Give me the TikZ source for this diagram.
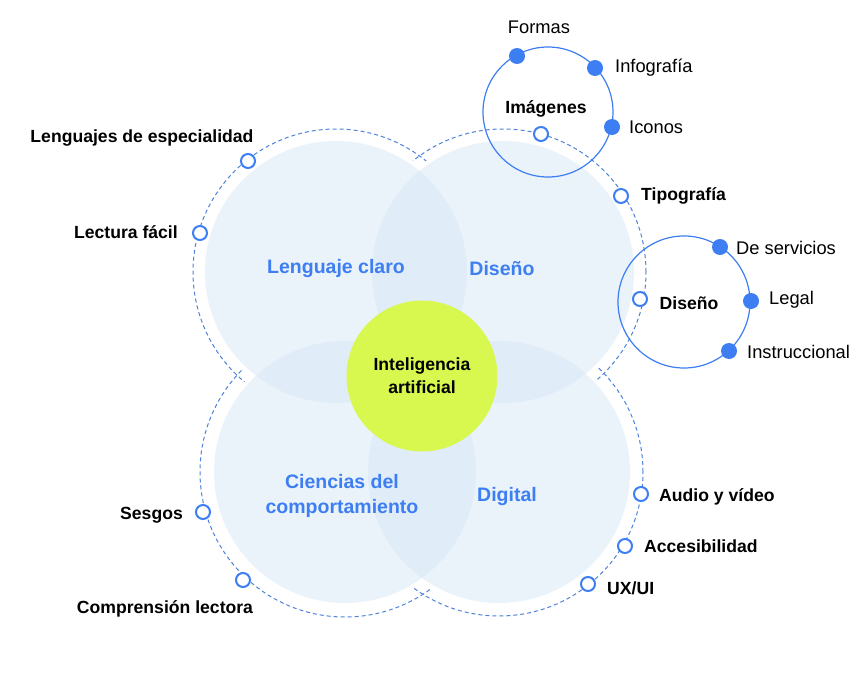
\documentclass[tikz,border=0pt]{standalone}
\usepackage{fontspec}
\setmainfont{Liberation Sans}
\usetikzlibrary{positioning}
\definecolor{dotblue}{HTML}{3D7EF2}
\definecolor{ringblue}{HTML}{4E82DA}
\definecolor{areablue}{HTML}{D7E7F7}
\definecolor{lime}{HTML}{D9F84F}
\tikzset{
  ring/.style={ringblue, line width=1pt, dash pattern=on 4pt off 3pt},
  area/.style={fill=areablue, fill opacity=0.5},
  subring/.style={dotblue, line width=1.2pt},
  opendot/.style={circle, draw=dotblue, line width=2pt, fill=white, minimum size=14pt, inner sep=0pt},
  fulldot/.style={circle, fill=dotblue, minimum size=16pt, inner sep=0pt},
  topic/.style={text=dotblue, font=\fontsize{19.5}{25}\selectfont\bfseries, align=center},
  item/.style={font=\fontsize{17.6}{20}\selectfont\bfseries, inner sep=0pt},
  subitem/.style={font=\fontsize{18.3}{20}\selectfont, inner sep=0pt}
}

\begin{document}
\begin{tikzpicture}[x=1pt,y=-1pt]
  \useasboundingbox (0,0) rectangle (868,680);
  % dashed rings
  \draw[ring] (336,272) circle[radius=143pt];
  \draw[ring] (503,272) circle[radius=143pt];
  \draw[ring] (345,472) circle[radius=145pt];
  \draw[ring] (499,472) circle[radius=144pt];
  % white halos, then the four areas
  \foreach \p in {(336,272),(503,272),(345,472),(499,472)}
    \fill[white] \p circle[radius=135pt];
  \foreach \p in {(336,272),(503,272),(345,472),(499,472)}
    \fill[area] \p circle[radius=131pt];
  \node[topic] (lenguaje) at (336,268) {Lenguaje claro};
  \node[topic] (diseno)   at (502,269) {Diseño};
  \node[topic] (ciencias) at (342,496) {Ciencias del\\comportamiento};
  \node[topic] (digital)  at (507,496) {Digital};
  % centre
  \node[circle, fill=lime, minimum size=151pt, inner sep=0pt, align=center,
        font=\fontsize{17.6}{23}\selectfont\bfseries] (ia) at (422,376) {Inteligencia\\artificial};
  % side rings
  \draw[subring] (548,112) circle[radius=65pt];
  \draw[subring] (684,302) circle[radius=66pt];
  \node[item] (imagenes) at (546,109) {Imágenes};
  \node[item] (disenosub) at (689,303) {Diseño};
  \node[fulldot] (formas) at (517,56) {};
  \node[fulldot] (infog)  at (595,68) {};
  \node[fulldot] (iconos) at (612,127) {};
  \node[fulldot] (servic) at (720,247) {};
  \node[fulldot] (legal)  at (751,301) {};
  \node[fulldot] (instru) at (729,351) {};
  \node[subitem] (formaslbl) at (539,27) {Formas};
  \node[subitem, anchor=mid west] (infoglbl)  at (615,70)  {Infografía};
  \node[subitem, anchor=mid west] (iconoslbl) at (629,131) {Iconos};
  \node[subitem, anchor=mid west] (serviclbl) at (736,252) {De servicios};
  \node[subitem, anchor=mid west] (legallbl)  at (769,302) {Legal};
  \node[subitem, anchor=mid west] (instrulbl) at (747,356) {Instruccional};
  % open dots on the dashed rings
  \node[opendot] (imgdot)  at (541,134) {};
  \node[opendot] (dsndot)  at (640,299) {};
  \node[opendot] (tipo)    at (621,196) {};
  \node[opendot] (espec)   at (248,161) {};
  \node[opendot] (lect)    at (200,233) {};
  \node[opendot] (sesgos)  at (203,512) {};
  \node[opendot] (compr)   at (243,580) {};
  \node[opendot] (audio)   at (641,494) {};
  \node[opendot] (acces)   at (625,546) {};
  \node[opendot] (ux)      at (588,584) {};
  \node[item] (especlbl) at (142,138) {Lenguajes de especialidad};
  \node[item, anchor=mid east] (lectlbl)   at (178,236) {Lectura fácil};
  \node[item, anchor=mid east] (sesgoslbl) at (183,517) {Sesgos};
  \node[item] (comprlbl) at (165,609) {Comprensión lectora};
  \node[item, anchor=mid west] (tipolbl)  at (641,198) {Tipografía};
  \node[item, anchor=mid west] (audiolbl) at (659,499) {Audio y vídeo};
  \node[item, anchor=mid west] (acceslbl) at (644,550) {Accesibilidad};
  \node[item, anchor=mid west] (uxlbl)    at (607,592) {UX/UI};
\end{tikzpicture}
\end{document}
